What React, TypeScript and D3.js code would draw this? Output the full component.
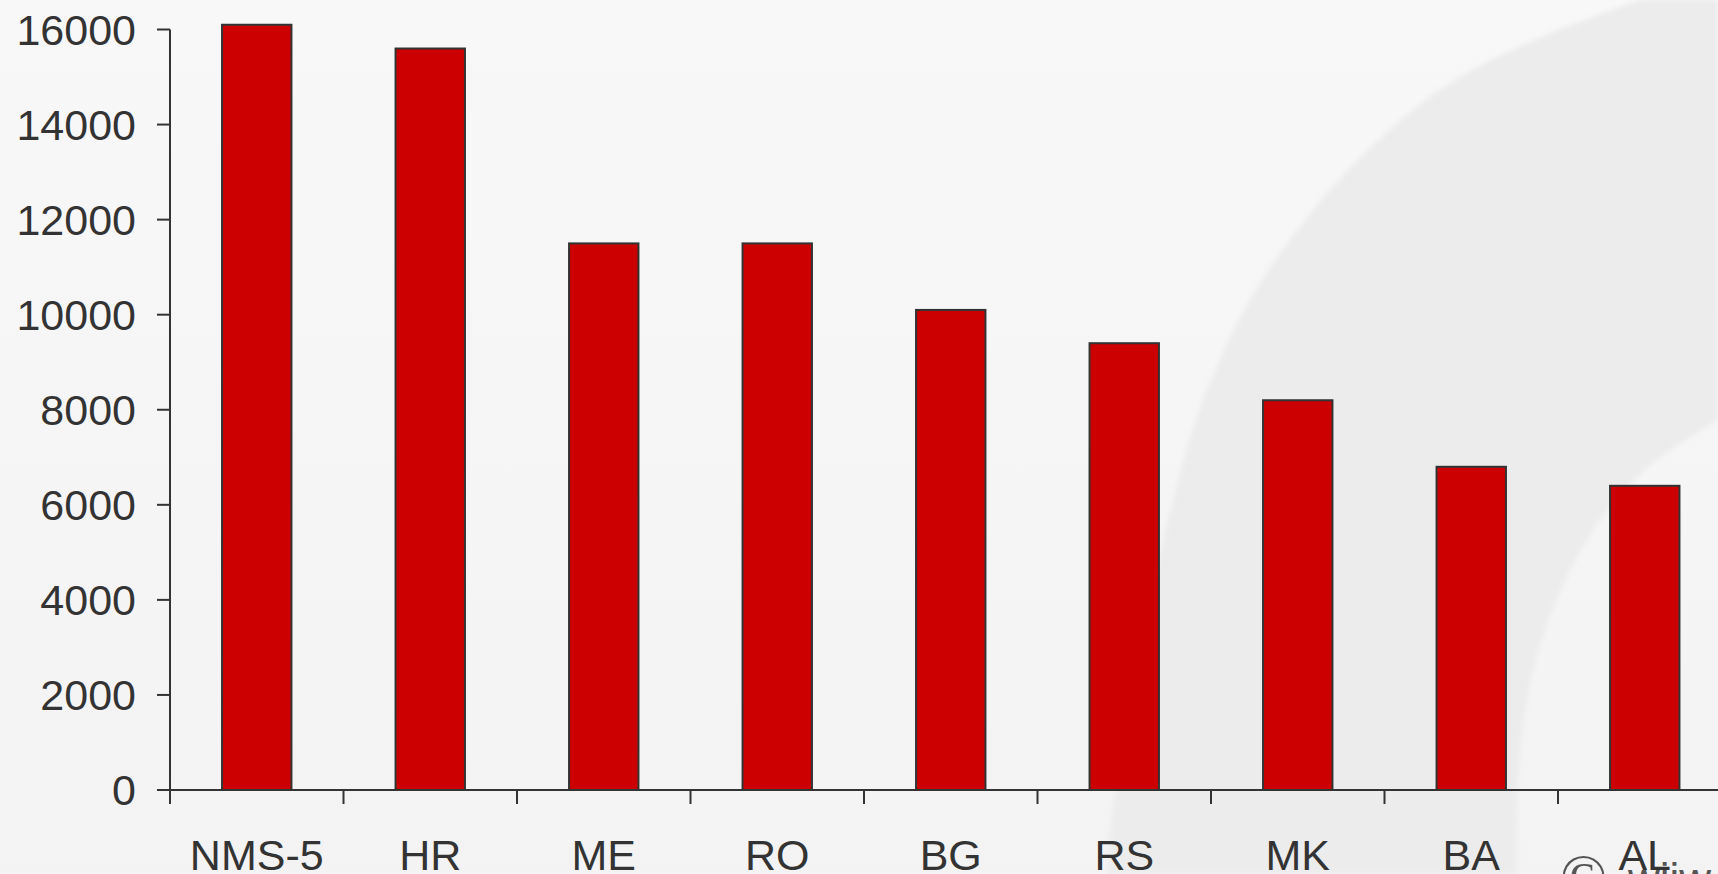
import React from 'react';
import * as d3 from 'd3';

const categories = ['NMS-5', 'HR', 'ME', 'RO', 'BG', 'RS', 'MK', 'BA', 'AL'];
const values = [16100, 15600, 11500, 11500, 10100, 9400, 8200, 6800, 6400];
const yTicks = [0, 2000, 4000, 6000, 8000, 10000, 12000, 14000, 16000];

const width = 1718;
const height = 874;

// decorative crescent behind the plot (outer edge top->bottom, inner edge bottom->top)
const outerEdge: [number, number][] = [
  [1640, 0], [1551, 33], [1478, 67], [1425, 100], [1351, 167], [1295, 233],
  [1250, 300], [1203, 400], [1173, 500], [1150, 600], [1128, 710], [1112, 820], [1108, 874],
];
const innerEdge: [number, number][] = [
  [1517, 874], [1518, 780], [1527, 700], [1545, 630], [1568, 575],
  [1600, 520], [1648, 467], [1718, 420],
];

const App: React.FC = () => {
  const x = d3.scaleBand<string>()
    .domain(categories)
    .range([170, 170 + categories.length * 173.5])
    .paddingInner(0.6)
    .paddingOuter(0.3);

  const y = d3.scaleLinear()
    .domain([0, 16000])
    .range([790, 29.5]);

  const step = x.step();
  const x0 = x.range()[0];

  const edge = d3.line<[number, number]>().curve(d3.curveCatmullRom);
  const outerPath = edge(outerEdge) || '';
  const innerPath = (edge(innerEdge) || '').replace(/^M/, 'L');
  const crescent = `${outerPath}${innerPath}L${width},0Z`;

  const font = '"Liberation Sans", Arial, sans-serif';
  const ink = '#333';

  return (
    <svg width={width} height={height}
      style={{ position: 'fixed', left: 0, top: 0, display: 'block' }}>
      <defs>
        <linearGradient id="bg" x1="0" y1="0" x2="0" y2="1">
          <stop offset="0" stopColor="#f8f8f8" />
          <stop offset="1" stopColor="#f3f3f3" />
        </linearGradient>
        <filter id="soft" x="-5%" y="-5%" width="110%" height="110%">
          <feGaussianBlur stdDeviation="2.5" />
        </filter>
      </defs>

      <rect x={0} y={0} width={width} height={height} fill="url(#bg)" />
      <path d={crescent} fill="#ececec" filter="url(#soft)" />

      {/* watermark */}
      <text x={1560} y={896} fontFamily='"Liberation Serif", serif' fontSize={62} fill="#555">©</text>
      <text x={1628} y={894} fontFamily={font} fontSize={44} fill="#555">wiiw</text>

      {/* bars */}
      {values.map((v, i) => (
        <rect key={categories[i]}
          x={x(categories[i])}
          y={y(v)}
          width={x.bandwidth()}
          height={y(0) - y(v)}
          fill="#cc0000"
          stroke={ink}
          strokeWidth={2} />
      ))}

      {/* y axis */}
      <line x1={x0} x2={x0} y1={y(16000)} y2={y(0) + 14} stroke={ink} strokeWidth={2} />
      {yTicks.map(t => (
        <g key={t}>
          <line x1={x0 - 13} x2={x0} y1={y(t)} y2={y(t)} stroke={ink} strokeWidth={2} />
          <text x={136} y={y(t)} dy="0.36em" textAnchor="end"
            fontFamily={font} fontSize={43} fill={ink}>{t}</text>
        </g>
      ))}

      {/* x axis */}
      <line x1={x0 - 13} x2={width} y1={y(0)} y2={y(0)} stroke={ink} strokeWidth={2} />
      {categories.map((c, i) => (
        <line key={c} x1={x0 + i * step} x2={x0 + i * step}
          y1={y(0)} y2={y(0) + 14} stroke={ink} strokeWidth={2} />
      ))}
      {categories.map(c => (
        <text key={c} x={(x(c) || 0) + x.bandwidth() / 2} y={870}
          textAnchor="middle" fontFamily={font} fontSize={43} fill={ink}>{c}</text>
      ))}
    </svg>
  );
};

export default App;
